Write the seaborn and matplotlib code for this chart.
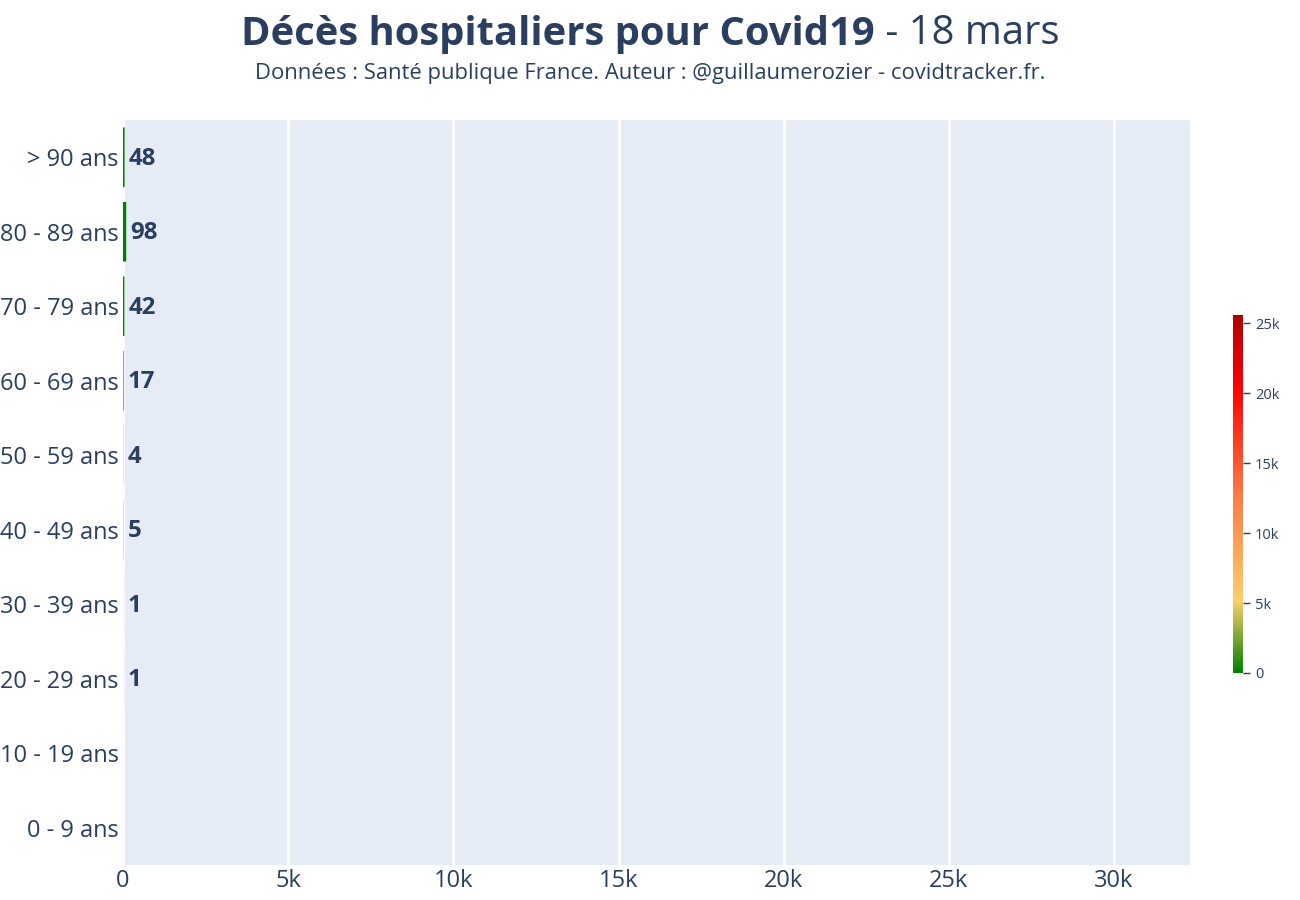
import matplotlib
matplotlib.use("Agg")
import matplotlib.pyplot as plt
import matplotlib.colors as mcolors
import matplotlib.ticker as mticker
import seaborn as sns
import numpy as np
import pandas as pd

# ---- data ----
categories = ["> 90 ans", "80 - 89 ans", "70 - 79 ans", "60 - 69 ans", "50 - 59 ans",
              "40 - 49 ans", "30 - 39 ans", "20 - 29 ans", "10 - 19 ans", "0 - 9 ans"]
deaths = [48, 98, 42, 17, 4, 5, 1, 1, 0, 0]
title_bold = "Décès hospitaliers pour Covid19"
title_rest = " - 18 mars"
subtitle = "Données : Santé publique France. Auteur : @guillaumerozier - covidtracker.fr."
x_ticks = [0, 5000, 10000, 15000, 20000, 25000, 30000]
x_max = 32300
c_max = 25600
cbar_ticks = [0, 5000, 10000, 15000, 20000, 25000]

sns.set_theme(style="white")
plt.rcParams['font.family'] = ['Open Sans', 'DejaVu Sans']
TXT = "#2a3f5f"

cmap = mcolors.LinearSegmentedColormap.from_list(
    "covid", [(0.0, "#008000"), (0.2, "#fccf6a"), (0.5, "#fa7a45"), (0.8, "#ff0000"), (1.0, "#b00000")])
norm = mcolors.Normalize(vmin=0, vmax=c_max)

df = pd.DataFrame({"age": categories, "deaths": deaths})
colors = [cmap(norm(v)) for v in deaths]

fig = plt.figure(figsize=(13, 9), dpi=100)
ax = fig.add_axes([123/1300, 1-865/900, (1190-123)/1300, (865-120)/900])
ax.set_facecolor("#E5ECF6")

sns.barplot(data=df, x="deaths", y="age", hue="age", palette=colors, legend=False,
            orient="h", width=0.8, ax=ax, linewidth=0, edgecolor="none", saturation=1)
for p in ax.patches:
    p.set_snap(False)

ax.set_xlim(0, x_max)
ax.set_xticks(x_ticks)
ax.xaxis.set_major_formatter(mticker.FuncFormatter(lambda v, p: "0" if v == 0 else f"{int(v/1000)}k"))
ax.grid(axis="x", color="white", linewidth=2)
ax.grid(axis="y", visible=False)
ax.set_axisbelow(True)
for s in ax.spines.values():
    s.set_visible(False)
ax.set_xlabel("")
ax.set_ylabel("")
ax.tick_params(axis="both", length=0, labelsize=17, colors=TXT, pad=3)
ax.tick_params(axis="y", pad=3)

for i, v in enumerate(deaths):
    if v > 0:
        ax.annotate(str(v), xy=(v, i), xytext=(3, -1), textcoords="offset points",
                    ha="left", va="center", fontsize=17.3, fontweight="bold", color=TXT)

# colorbar
cax = fig.add_axes([1233/1300, 1-673/900, 10/1300, 358/900])
sm = matplotlib.cm.ScalarMappable(norm=norm, cmap=cmap)
cb = fig.colorbar(sm, cax=cax)
cb.outline.set_visible(False)
cb.set_ticks(cbar_ticks)
cb.ax.yaxis.set_major_formatter(mticker.FuncFormatter(lambda v, p: "0" if v == 0 else f"{int(v/1000)}k"))
cb.ax.tick_params(labelsize=10.5, colors=TXT, length=5, width=1, pad=3.5)

# title (mixed weights), centered
fig.canvas.draw()
r = fig.canvas.get_renderer()
t1 = fig.text(0, 1-34/900, title_bold, fontsize=28.8, fontweight="bold", color=TXT, va="center", ha="left")
t2 = fig.text(0, 1-34/900, title_rest, fontsize=28.8, color=TXT, va="center", ha="left")
w1 = t1.get_window_extent(r).width
w2 = t2.get_window_extent(r).width
x0 = (650 - (w1 + w2) / 2)
t1.set_x(x0 / 1300)
t2.set_x((x0 + w1) / 1300)
fig.text(650/1300, 1-74/900, subtitle, fontsize=15.8, color=TXT, ha="center", va="center")

fig.savefig("out.png", dpi=100)
